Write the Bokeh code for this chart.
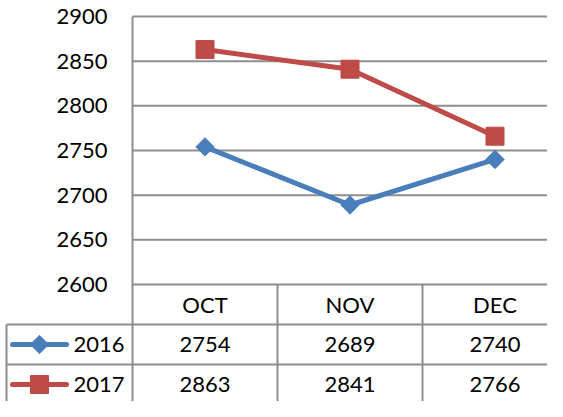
import math
from bokeh.plotting import figure
from bokeh.models import Range1d
from bokeh.embed import file_html
from bokeh.resources import INLINE
from bokeh.core.properties import value

# ---- data ----
months = ["OCT", "NOV", "DEC"]
series_names = ["2016", "2017"]
values_2016 = [2754, 2689, 2740]
values_2017 = [2863, 2841, 2766]
y_ticks = [2600, 2650, 2700, 2750, 2800, 2850, 2900]

# ---- styling / layout ----
COL_2016 = "#4A7EBB"
COL_2017 = "#BE4B48"
GRID = "#8E8E8E"
FONT = value("Lato")
FS = "22px"

W, H = 547, 401
UNIT_X = 145.0          # px per category column
LEFT = 132.0            # px from figure left to plot-area left edge
TOP = 16.0              # px from figure top to top gridline
PLOT_H = 268.0          # px height of plot area
TABLE_TOP = TOP + PLOT_H
ROW_H = 40.0
LEG_W = 126.0           # legend column width (px)

ymin, ymax = y_ticks[0], y_ticks[-1]
ppy = PLOT_H / (ymax - ymin)
x0 = -0.5 - LEFT / UNIT_X
x1 = -0.5 + (W - LEFT) / UNIT_X
y_top = ymax + TOP / ppy
y_bot = ymin - (H - TABLE_TOP) / ppy

p = figure(width=W, height=H, x_range=Range1d(x0, x1), y_range=Range1d(y_bot, y_top),
           output_backend="svg", toolbar_location=None,
           x_axis_location=None, y_axis_location=None,
           min_border=0, min_border_left=0, min_border_right=0,
           min_border_top=0, min_border_bottom=0)
p.grid.visible = False
p.outline_line_color = None
p.background_fill_color = "white"
p.border_fill_color = "white"
p.extra_y_ranges = {"tbl": Range1d(-(H - TABLE_TOP) / ROW_H, TABLE_TOP / ROW_H)}

n = len(months)
xs = list(range(n))
xl = -0.5
xr = x1 + 1
leg_left = -0.5 - LEG_W / UNIT_X

# horizontal gridlines (2600 forms the table top)
p.segment(x0=[xl] * len(y_ticks), y0=y_ticks, x1=[xr] * len(y_ticks), y1=y_ticks,
          line_color=GRID, line_width=2)
# left plot edge down through table
p.segment(x0=[xl], y0=[ymax], x1=[xl], y1=[y_bot - 50], line_color=GRID, line_width=2)
# table column dividers
divs = [i + 0.5 for i in xs]
p.segment(x0=divs, y0=[0] * n, x1=divs, y1=[-4] * n, line_color=GRID, line_width=2,
          y_range_name="tbl")
# table row lines
p.segment(x0=[leg_left] * 2, y0=[-1, -2], x1=[xr] * 2, y1=[-1, -2], line_color=GRID,
          line_width=2, y_range_name="tbl")
# legend column left border
p.segment(x0=[leg_left], y0=[-1], x1=[leg_left], y1=[-4], line_color=GRID, line_width=2,
          y_range_name="tbl")

# y tick labels
p.text(x=[xl] * len(y_ticks), y=y_ticks, text=[str(t) for t in y_ticks],
       x_offset=-25, text_align="right", text_baseline="middle",
       text_font=FONT, text_font_size=FS, text_color="#000000")

# series
p.line(xs, values_2016, line_color=COL_2016, line_width=5)
p.scatter(xs, values_2016, marker="square", angle=math.pi / 4, size=13,
          fill_color=COL_2016, line_color=COL_2016)
p.line(xs, values_2017, line_color=COL_2017, line_width=5)
p.scatter(xs, values_2017, marker="square", size=18,
          fill_color=COL_2017, line_color=COL_2017)

# table: header
p.text(x=xs, y=[-0.5] * n, text=months, text_align="center", text_baseline="middle",
       text_font=FONT, text_font_size=FS, text_color="#000000", y_range_name="tbl")
# table: values
for row, vals in ((-1.5, values_2016), (-2.5, values_2017)):
    p.text(x=xs, y=[row] * n, text=[str(v) for v in vals], text_align="center",
           text_baseline="middle", text_font=FONT, text_font_size=FS,
           text_color="#000000", y_range_name="tbl")

# table: legend keys
lx0 = -0.5 - 120 / UNIT_X
lx1 = -0.5 - 66 / UNIT_X
lxm = (lx0 + lx1) / 2
p.segment(x0=[lx0] * 2, y0=[-1.5, -2.5], x1=[lx1] * 2, y1=[-1.5, -2.5],
          line_color=[COL_2016, COL_2017], line_width=5, line_cap="round",
          y_range_name="tbl")
p.scatter([lxm], [-1.5], marker="square", angle=math.pi / 4, size=13,
          fill_color=COL_2016, line_color=COL_2016, y_range_name="tbl")
p.scatter([lxm], [-2.5], marker="square", size=18,
          fill_color=COL_2017, line_color=COL_2017, y_range_name="tbl")
p.text(x=[xl] * 2, y=[-1.5, -2.5], text=series_names, x_offset=-8,
       text_align="right", text_baseline="middle", text_font=FONT,
       text_font_size=FS, text_color="#000000", y_range_name="tbl")

open("out.html", "w").write(file_html(p, INLINE))
